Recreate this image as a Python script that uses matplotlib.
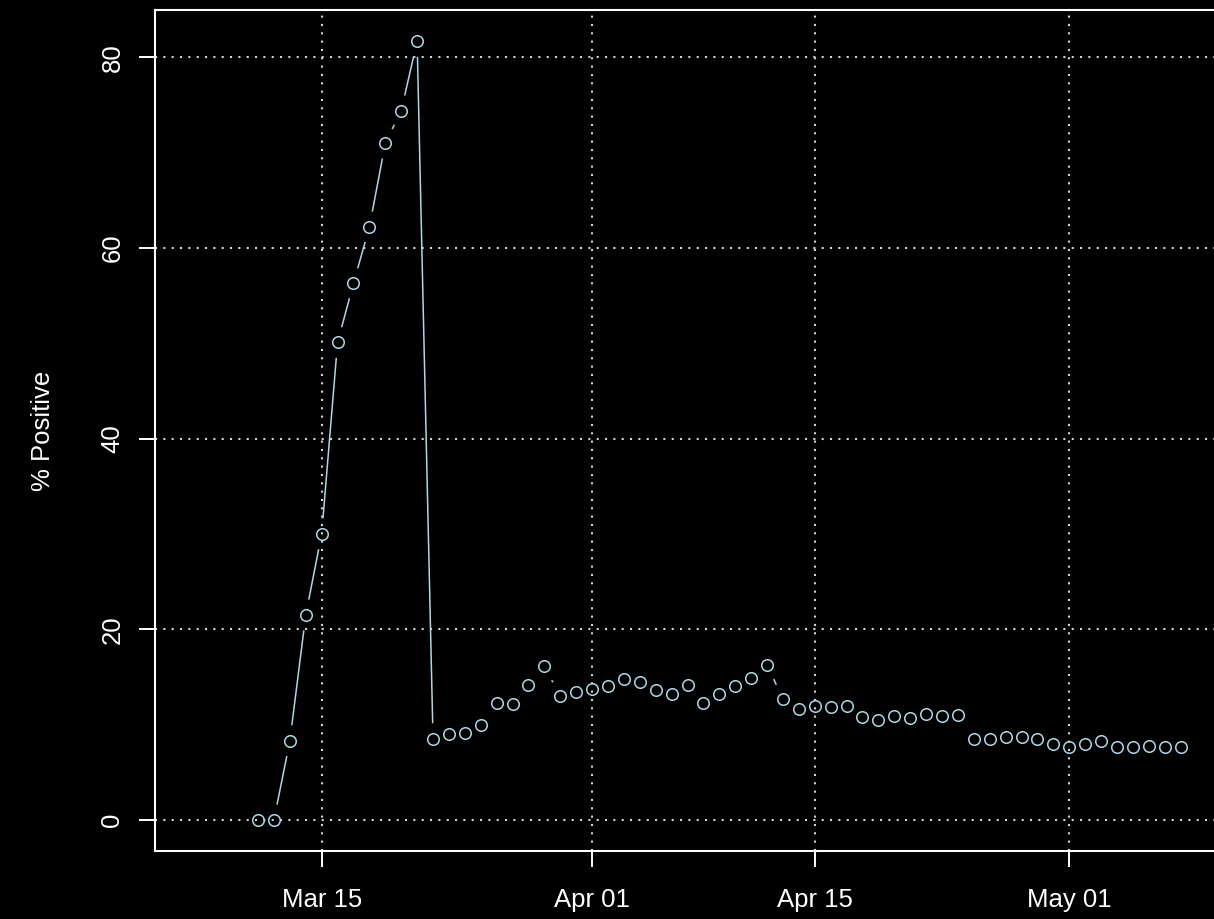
import numpy as np
import matplotlib
matplotlib.use("Agg")
import matplotlib.pyplot as plt
import matplotlib.dates as mdates
from matplotlib.collections import LineCollection

plt.rcParams['font.family'] = ['Liberation Sans', 'DejaVu Sans']

# daily share of positive tests, Mar 11 - May 08
first_day = np.datetime64('2020-03-11')
pct_positive = [0.0, 0.0, 8.3, 21.5, 30.0, 50.1, 56.3, 62.2, 71.0, 74.4, 81.7,
                8.5, 9.0, 9.15, 10.0, 12.3, 12.2, 14.2, 16.1, 13.0, 13.4,
                13.7, 14.05, 14.8, 14.5, 13.65, 13.25, 14.1, 12.3, 13.2, 14.05,
                14.9, 16.25, 12.7, 11.6, 11.95, 11.85, 11.9, 10.8, 10.5, 10.85,
                10.7, 11.1, 10.9, 10.95, 8.5, 8.45, 8.7, 8.7, 8.45, 7.95,
                7.65, 7.95, 8.25, 7.65, 7.65, 7.75, 7.65, 7.6]
range_start = np.datetime64('2020-03-07')   # series begins with missing days
tick_dates = ['2020-03-15', '2020-04-01', '2020-04-15', '2020-05-01']
tick_labels = ['Mar 15', 'Apr 01', 'Apr 15', 'May 01']
y_ticks = [0, 20, 40, 60, 80]

dates = first_day + np.arange(len(pct_positive))
x = mdates.date2num(dates.astype('datetime64[D]').astype(object))
y = np.array(pct_positive)

col = '#ADD8E6'
fig = plt.figure(figsize=(12.14, 9.19), dpi=100, facecolor='black')
ax = fig.add_axes([155 / 1214, 68 / 919, 1065 / 1214, 841 / 919])
ax.set_facecolor('black')

# R-style 4% padding of the data range
x0 = mdates.date2num(range_start.astype(object))
x1 = x.max()
ax.set_xlim(x0 - 0.04 * (x1 - x0), x1 + 0.04 * (x1 - x0))
ax.set_ylim(y.min() - 0.04 * (y.max() - y.min()), y.max() + 0.04 * (y.max() - y.min()))

# type="b": line segments with a gap around each point
gap = 15.6
pix = ax.transData.transform(np.column_stack([x, y]))
segs = []
for p1, p2 in zip(pix[:-1], pix[1:]):
    d = p2 - p1
    L = np.hypot(*d)
    if L > 2 * gap:
        u = d / L
        segs.append(ax.transData.inverted().transform([p1 + u * gap, p2 - u * gap]))
ax.add_collection(LineCollection(segs, colors=col, linewidths=1.1, zorder=3))
ax.plot(x, y, ls='none', marker='o', ms=8.3, mfc='none', mec=col, mew=1.1, zorder=4)

xt = mdates.date2num([np.datetime64(d).astype(object) for d in tick_dates])
ax.set_xticks(xt)
ax.set_xticklabels(tick_labels)
ax.set_yticks(y_ticks)
ax.set_yticklabels([str(v) for v in y_ticks], rotation=90, va='center')

ax.grid(True, color='#D3D3D3', ls=(0, (1, 3)), lw=1.5)
ax.set_axisbelow(True)

for s in ax.spines.values():
    s.set_color('white')
    s.set_linewidth(1.5)
ax.tick_params(colors='white', length=11.5, width=1.4, labelsize=18.5)
ax.tick_params(axis='x', pad=15)
ax.tick_params(axis='y', pad=10.5)
ax.set_ylabel('% Positive', color='white', fontsize=18.5)
ax.yaxis.set_label_coords(-0.0939, 0.5)

fig.savefig('out.png', dpi=100, facecolor='black')
